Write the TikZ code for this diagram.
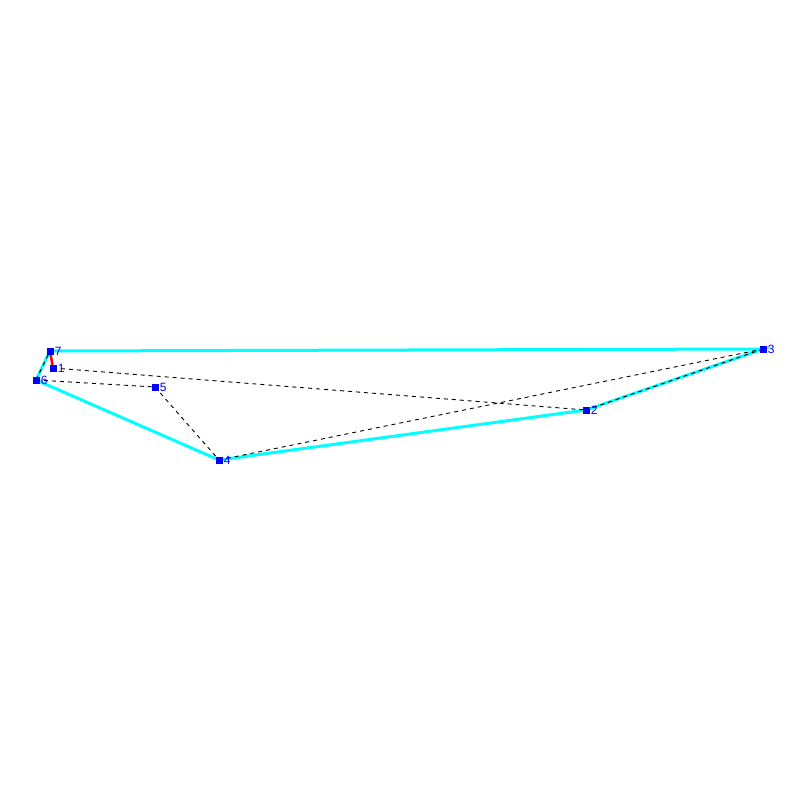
\documentclass[tikz,border=0pt]{standalone}
\usepackage{fontspec}
\setsansfont{Liberation Sans}
\usepackage{tikz}
\usetikzlibrary{positioning, backgrounds}
\definecolor{hullcyan}{RGB}{0,255,255}
\definecolor{ptblue}{RGB}{0,0,255}
\definecolor{edgered}{RGB}{255,0,0}

\begin{document}
\begin{tikzpicture}[x=1pt, y=-1pt,
    pt/.style={fill=ptblue, minimum size=7pt, inner sep=0pt,
        label={[ptblue, font=\sffamily\fontsize{12}{12}\selectfont, inner sep=1pt]right:#1}},
    hull/.style={hullcyan, line width=3pt},
    link/.style={black, line width=0.9pt, dash pattern=on 4pt off 4pt}]
    \useasboundingbox (0, 0) rectangle (800, 800);

    % Points
    \node[pt=1] (p1) at (53, 368) {};
    \node[pt=2] (p2) at (586, 410) {};
    \node[pt=3] (p3) at (763, 349) {};
    \node[pt=4] (p4) at (219, 460) {};
    \node[pt=5] (p5) at (155, 387) {};
    \node[pt=6] (p6) at (36, 380) {};
    \node[pt=7] (p7) at (50, 351) {};

    \begin{pgfonlayer}{background}
    % Hull
    \draw[hull] (p7.center) -- (p3.center) -- (p2.center) -- (p4.center)
        -- (p6.center) -- cycle;
    \draw[edgered, line width=2.5pt] (p7.center) -- (p1.center);

    % Dashed links
    \draw[link] (p1.center) -- (p2.center);
    \draw[link] (p6.center) -- (p5.center);
    \draw[link] (p5.center) -- (p4.center);
    \draw[link] (p4.center) -- (p3.center);
    \draw[link] (p3.center) -- (p2.center);
    \draw[link] (p6.center) -- (p7.center);
    \end{pgfonlayer}
\end{tikzpicture}
\end{document}
